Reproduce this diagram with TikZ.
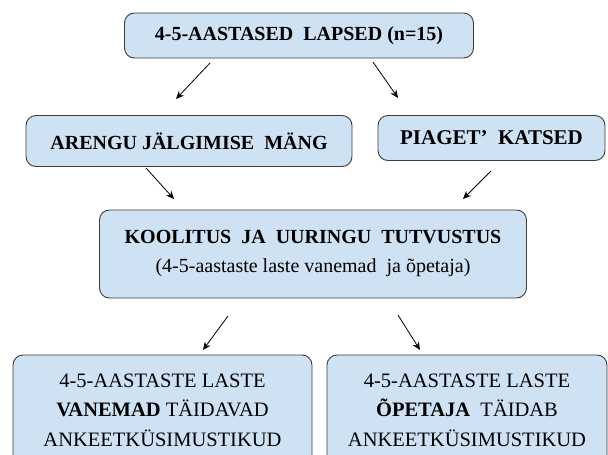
\documentclass[tikz,border=0pt]{standalone}
\usepackage{fontspec}
\setmainfont{Liberation Serif}
\usetikzlibrary{arrows.meta}
\definecolor{boxblue}{RGB}{207,226,243}
\definecolor{boxline}{RGB}{60,60,60}
\begin{document}
\begin{tikzpicture}[x=1pt,y=-1pt,
  box/.style={draw=boxline, fill=boxblue, rounded corners=10pt, line width=0.9pt,
    align=center, inner sep=0pt, font=\fontsize{20}{29}\selectfont},
  arr/.style={-{Stealth[length=8pt,width=7pt]}, line width=0.8pt, black}]
\useasboundingbox (0,0) rectangle (608,455);
\clip (0,0) rectangle (608,455);
\fill[white] (0,0) rectangle (608,455);

\node[box, minimum width=349pt, minimum height=45pt] (top) at (299,35.5)
  {\textbf{4-5-AASTASED\ \ LAPSED (n=15)}};
\node[box, minimum width=326pt, minimum height=51pt] (arengu) at (189,141)
  {\textbf{ARENGU JÄLGIMISE\ \ MÄNG}};
\node[box, minimum width=227pt, minimum height=45pt, font=\fontsize{21}{29}\selectfont] (piaget) at (491.5,138)
  {\textbf{PIAGET'\ \ KATSED}};
\node[box, minimum width=427pt, minimum height=88pt] (kool) at (313,254)
  {\textbf{KOOLITUS\ \ JA\ \ UURINGU\ \ TUTVUSTUS}\\(4-5-aastaste laste vanemad\ \ ja õpetaja)};
\node[box, minimum width=299pt, minimum height=110pt, font=\fontsize{20.5}{29.5}\selectfont] (vanem) at (162.5,410)
  {4-5-AASTASTE LASTE\\\textbf{VANEMAD} TÄIDAVAD\\ANKEETKÜSIMUSTIKUD};
\node[box, minimum width=280pt, minimum height=110pt, font=\fontsize{20.5}{29.5}\selectfont] (opet) at (467,410)
  {4-5-AASTASTE LASTE\\\textbf{ÕPETAJA}\ \ TÄIDAB\\ANKEETKÜSIMUSTIKUD};

\coordinate (a1s) at (210,63);  \coordinate (a1e) at (176,99);
\coordinate (a2s) at (373,62);  \coordinate (a2e) at (398,98);
\coordinate (a3s) at (146,168); \coordinate (a3e) at (174,199);
\coordinate (a4s) at (491,171); \coordinate (a4e) at (463,199);
\coordinate (a5s) at (228,316); \coordinate (a5e) at (203,350);
\coordinate (a6s) at (398,315); \coordinate (a6e) at (420,350);
\draw[arr] (a1s) -- (a1e);
\draw[arr] (a2s) -- (a2e);
\draw[arr] (a3s) -- (a3e);
\draw[arr] (a4s) -- (a4e);
\draw[arr] (a5s) -- (a5e);
\draw[arr] (a6s) -- (a6e);
\end{tikzpicture}
\end{document}
